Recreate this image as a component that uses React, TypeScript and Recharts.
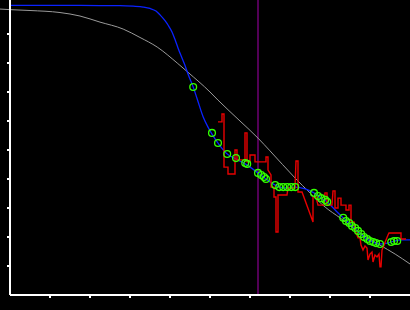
import React from "react";
import {
  ComposedChart, Line, Scatter, XAxis, YAxis, ReferenceLine,
} from "recharts";

// smooth reference curve (gray)
const grayX = [-0.25, 0, 0.5, 1.25, 1.75, 2.25, 2.83, 3.25, 3.68, 4.18, 4.45, 5.0, 5.2, 5.75, 6.2, 6.5, 7.13, 7.5, 7.88, 8.25, 8.75, 9.25, 9.63, 10];
const grayY = [9.86, 9.84, 9.81, 9.74, 9.62, 9.41, 9.17, 8.88, 8.55, 8.0, 7.68, 7.0, 6.72, 6.0, 5.41, 4.97, 4.03, 3.52, 3.03, 2.66, 2.14, 1.72, 1.41, 1.07];

// fitted curve (blue)
const blueX = [0, 1.25, 2.25, 2.75, 3.08, 3.33, 3.5, 3.65, 3.75, 3.88, 3.95, 4.05, 4.13, 4.2, 4.3, 4.38, 4.45, 4.58, 4.68, 4.83, 4.95, 5.05, 5.2, 5.43, 5.65, 5.88, 6.2, 6.4, 6.63, 6.83, 7.13, 7.38, 7.6, 7.78, 7.93, 8.13, 8.33, 8.5, 8.68, 8.88, 9.05, 9.25, 9.43, 9.6, 9.8, 10];
const blueY = [9.99, 9.99, 9.98, 9.98, 9.96, 9.93, 9.88, 9.79, 9.66, 9.45, 9.31, 9.07, 8.79, 8.52, 8.17, 7.9, 7.62, 7.17, 6.76, 6.14, 5.79, 5.55, 5.24, 4.86, 4.69, 4.52, 4.21, 4.0, 3.79, 3.69, 3.72, 3.66, 3.52, 3.34, 3.21, 2.93, 2.66, 2.45, 2.21, 1.97, 1.83, 1.76, 1.79, 1.86, 1.9, 1.9];

// measured points (green circles)
const ptX = [4.58, 5.05, 5.2, 5.43, 5.65, 5.88, 5.93, 6.2, 6.28, 6.35, 6.4, 6.63, 6.73, 6.83, 6.93, 7.03, 7.13, 7.6, 7.7, 7.78, 7.88, 7.93, 8.33, 8.4, 8.48, 8.55, 8.63, 8.7, 8.78, 8.85, 8.93, 9.0, 9.08, 9.15, 9.25, 9.53, 9.6, 9.68];
const ptY = [7.17, 5.59, 5.24, 4.86, 4.72, 4.55, 4.52, 4.21, 4.14, 4.07, 4.0, 3.79, 3.72, 3.72, 3.72, 3.72, 3.72, 3.52, 3.41, 3.34, 3.28, 3.21, 2.66, 2.55, 2.48, 2.38, 2.31, 2.21, 2.1, 2.0, 1.93, 1.86, 1.83, 1.79, 1.76, 1.83, 1.86, 1.86];

// raw signal (red)
const rawX = [5.2, 5.3, 5.3, 5.35, 5.35, 5.45, 5.45, 5.625, 5.625, 5.675, 5.675, 5.875, 5.875, 5.925, 5.925, 6.0, 6.0, 6.125, 6.125, 6.4, 6.4, 6.45, 6.45, 6.525, 6.525, 6.6, 6.6, 6.65, 6.65, 6.7, 6.7, 6.925, 6.95, 7.125, 7.15, 7.2, 7.2, 7.3, 7.575, 7.575, 7.65, 7.7, 7.85, 7.875, 7.925, 7.925, 8.05, 8.075, 8.125, 8.125, 8.2, 8.2, 8.275, 8.275, 8.4, 8.4, 8.475, 8.475, 8.525, 8.525, 8.6, 8.625, 8.7, 8.75, 8.775, 8.825, 8.875, 8.925, 8.95, 9.0, 9.05, 9.075, 9.125, 9.175, 9.225, 9.25, 9.275, 9.3, 9.35, 9.4, 9.45, 9.475, 9.775, 9.775, 9.9];
const rawY = [5.97, 5.97, 6.24, 6.24, 4.41, 4.41, 4.17, 4.17, 5.0, 5.0, 4.66, 4.66, 5.59, 5.59, 4.59, 4.59, 4.83, 4.83, 4.59, 4.59, 4.76, 4.76, 4.31, 4.14, 3.72, 3.72, 3.38, 3.38, 2.17, 2.17, 3.45, 3.45, 3.69, 3.69, 4.62, 4.62, 3.55, 3.55, 2.52, 3.38, 3.38, 3.1, 3.1, 3.52, 3.52, 3.1, 3.1, 3.59, 3.59, 3.0, 3.0, 3.34, 3.34, 3.1, 3.1, 2.93, 2.93, 3.1, 3.1, 2.52, 2.52, 2.24, 1.97, 1.97, 1.72, 1.55, 1.69, 1.62, 1.21, 1.41, 1.48, 1.14, 1.38, 1.31, 1.41, 0.97, 0.97, 1.55, 1.72, 1.9, 2.07, 2.14, 2.14, 1.93, 1.93];

const MARKER_X = 6.2;
const X_TICKS = [1, 2, 3, 4, 5, 6, 7, 8, 9];
const Y_TICKS = [1, 2, 3, 4, 5, 6, 7, 8, 9];

const zip = (xs: number[], ys: number[]) => xs.map((x, i) => ({ x, y: ys[i] }));

const grayData = zip(grayX, grayY).filter((d) => d.x >= 0);
const blueData = zip(blueX, blueY);
const pointData = zip(ptX, ptY);
const rawData = zip(rawX, rawY);

const NoLabel = () => <g />;

const RingShape = (props: any) => (
  <circle cx={props.cx} cy={props.cy} r={3.4} fill="none" stroke="#33ff00" strokeWidth={1.3} />
);

const axisStyle = { stroke: "#fff", strokeWidth: 1.2, shapeRendering: "crispEdges" };

export default function App() {
  return (
    <div style={{ position: "absolute", left: 0, top: 0, width: 410, height: 310, background: "#000" }}>
      <ComposedChart width={410} height={310} margin={{ top: 0, right: 0, bottom: 0, left: 0 }}>
        <XAxis
          type="number"
          dataKey="x"
          domain={[0, 10]}
          ticks={X_TICKS}
          tick={NoLabel}
          tickSize={3}
          height={15}
          axisLine={axisStyle}
          tickLine={axisStyle}
        />
        <YAxis
          type="number"
          dataKey="y"
          domain={[0, 295 / 29]}
          ticks={Y_TICKS}
          tick={NoLabel}
          tickSize={3}
          width={10}
          axisLine={axisStyle}
          tickLine={axisStyle}
        />
        <ReferenceLine x={MARKER_X} stroke="#8a0090" strokeWidth={1.2} />
        <ReferenceLine
          segment={[{ x: grayX[0], y: grayY[0] }, { x: grayX[1], y: grayY[1] }]}
          ifOverflow="visible"
          stroke="#9a9a9a"
        />
        <Line data={grayData} dataKey="y" type="monotone" stroke="#9a9a9a" strokeWidth={1} dot={false} isAnimationActive={false} />
        <Line data={blueData} dataKey="y" type="monotone" stroke="#0a22ff" strokeWidth={1.3} dot={false} isAnimationActive={false} />
        <Line data={rawData} dataKey="y" type="linear" stroke="#e80000" strokeWidth={1.4} dot={false} isAnimationActive={false} />
        <Scatter data={pointData} dataKey="y" shape={RingShape} isAnimationActive={false} />
      </ComposedChart>
    </div>
  );
}
